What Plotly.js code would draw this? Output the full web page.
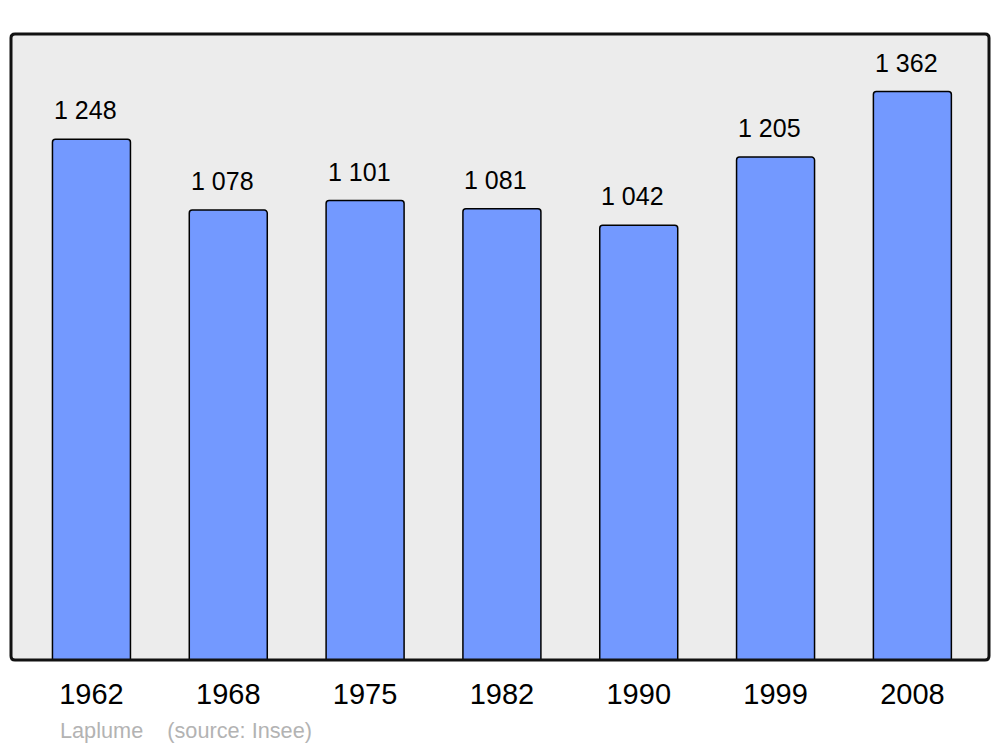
<!DOCTYPE html>
<html><head><meta charset="utf-8">
<script src="https://cdn.plot.ly/plotly-3.0.1.min.js"></script>
<style>html,body{margin:0;padding:0;background:#fff}#c{width:1000px;height:747px}</style>
</head><body><div id="c"></div>
<script>
const years = ["1962","1968","1975","1982","1990","1999","2008"];
const population = [1248,1078,1101,1081,1042,1205,1362];
const valueLabels = ["1 248","1 078","1 101","1 081","1 042","1 205","1 362"];
const footerText = "Laplume&nbsp;&nbsp;&nbsp;&nbsp;(source: Insee)";

const idx = years.map((_, i) => i);
const FONT = "Liberation Sans, Arial, sans-serif";

const annotations = idx.map(i => ({
  x: i, y: population[i], xref: 'x', yref: 'y',
  text: valueLabels[i], showarrow: false,
  yanchor: 'bottom', xanchor: 'center', xshift: -6, yshift: 13,
  font: {family: FONT, size: 25, color: '#000'}
}));
const pl = 11, pw = 1000-22, pt = 34, ph = 747-34-87;
annotations.push({
  x: (58 - pl)/pw, y: (pt + ph - 730)/ph, xref: 'paper', yref: 'paper', yanchor: 'middle', xanchor: 'left',
  text: footerText, showarrow: false,
  font: {family: FONT, size: 21.7, color: '#b3b3b3'}
});

const trace = {
  type: 'bar', x: idx, y: population, width: 0.57,
  marker: {color: '#7399ff', line: {color: '#000', width: 1.5}, cornerradius: 3},
  hoverinfo: 'none'
};

const rx = 4/pw, ry = 4/ph;
const borderPath = `M ${rx} 0 L ${1-rx} 0 Q 1 0 1 ${ry} L 1 ${1-ry} Q 1 1 ${1-rx} 1 L ${rx} 1 Q 0 1 0 ${1-ry} L 0 ${ry} Q 0 0 ${rx} 0 Z`;

const layout = {
  width: 1000, height: 747,
  margin: {l: 11, r: 11, t: 34, b: 87, pad: 0},
  paper_bgcolor: '#ffffff', plot_bgcolor: '#ececec',
  showlegend: false,
  xaxis: {range: [-0.588, 6.56], tickvals: idx, ticktext: years, showgrid: false, zeroline: false,
          showline: false, ticks: '', ticklabelstandoff: 14,
          tickfont: {family: FONT, size: 29, color: '#000'}, fixedrange: true},
  yaxis: {range: [0, 1500], showgrid: false, zeroline: false, showticklabels: false, showline: false, ticks: '', fixedrange: true},
  shapes: [{type: 'path', xref: 'paper', yref: 'paper', path: borderPath,
            line: {color: '#111', width: 3}, fillcolor: 'rgba(0,0,0,0)', layer: 'above'}],
  annotations: annotations
};
Plotly.newPlot('c', [trace], layout, {staticPlot: true, displayModeBar: false});
</script></body></html>
